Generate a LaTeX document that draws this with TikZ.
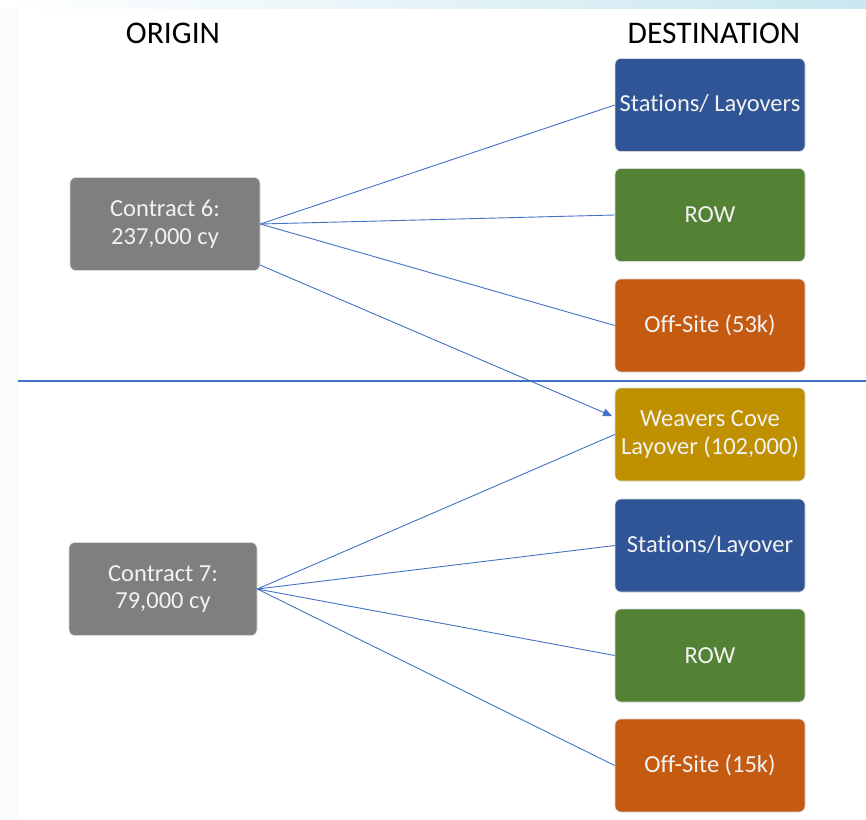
\documentclass[tikz,border=0pt]{standalone}
\usepackage{fontspec}
\setmainfont{Carlito}[Ligatures={NoCommon}]
\usetikzlibrary{arrows.meta}
\definecolor{boxgray}{HTML}{7F7F7F}
\definecolor{boxblue}{HTML}{2F5597}
\definecolor{boxgreen}{HTML}{548235}
\definecolor{boxorange}{HTML}{C55A11}
\definecolor{boxgold}{HTML}{BF9000}
\definecolor{linkblue}{HTML}{4472C4}
\definecolor{stripcyan}{HTML}{C9E7EF}
\definecolor{edgetint}{HTML}{F9FBFD}
\tikzset{
  px/.style={x=1pt,y=-1pt},
  boxnode/.style={draw=white!85!black, line width=0.6pt, rounded corners=6pt,
    minimum width=190pt, minimum height=93pt, text=white!95!black,
    align=center, font=\fontsize{24.5}{27.5}\selectfont, inner sep=1pt},
  title/.style={font=\fontsize{31.5}{34}\selectfont, text=black},
  link/.style={draw=linkblue, line width=0.9pt},
}
\begin{document}
\begin{tikzpicture}[px]
\useasboundingbox (0,0) rectangle (866,819);
\fill[white] (0,0) rectangle (866,819);
\fill[left color=white, right color=stripcyan] (0,0) rectangle (866,8);
\fill[edgetint] (0,8) rectangle (18,819);
% titles
\node[title] (orig) at (173,33) {ORIGIN};
\node[title] (dest) at (714,33) {DESTINATION};
% divider
\coordinate (divL) at (18,381);
\coordinate (divR) at (866,381);
\draw[draw=linkblue, line width=2pt] (divL) -- (divR);
% origin boxes
\node[boxnode, fill=boxgray] (c6) at (165,224) {Contract 6:\\237,000 cy};
\node[boxnode, fill=boxgray, minimum width=188pt] (c7) at (163,589) {Contract 7:\\79,000 cy};
% destination boxes
\node[boxnode, fill=boxblue]   (d1) at (710,105) {Stations/ Layovers};
\node[boxnode, fill=boxgreen]  (d2) at (710,215) {ROW};
\node[boxnode, fill=boxorange] (d3) at (710,325.5) {Off-Site (53k)};
\node[boxnode, fill=boxgold]   (d4) at (710,434.5) {Weavers Cove\\Layover (102,000)};
\node[boxnode, fill=boxblue]   (d5) at (710,545.5) {Stations/Layover};
\node[boxnode, fill=boxgreen]  (d6) at (710,655.5) {ROW};
\node[boxnode, fill=boxorange] (d7) at (710,765.5) {Off-Site (15k)};
% connectors contract 6
\draw[link] (c6.east) -- (d1.west);
\draw[link] (c6.east) -- (d2.west);
\draw[link] (c6.east) -- (d3.west);
\coordinate (c6low) at (260,265);
\coordinate (d4in) at (612,416);
\draw[link, -{Triangle[length=9pt,width=8pt]}] (c6low) -- (d4in);
% connectors contract 7
\draw[link] (c7.east) -- (d4.west);
\draw[link] (c7.east) -- (d5.west);
\draw[link] (c7.east) -- (d6.west);
\draw[link] (c7.east) -- (d7.west);
\end{tikzpicture}
\end{document}
